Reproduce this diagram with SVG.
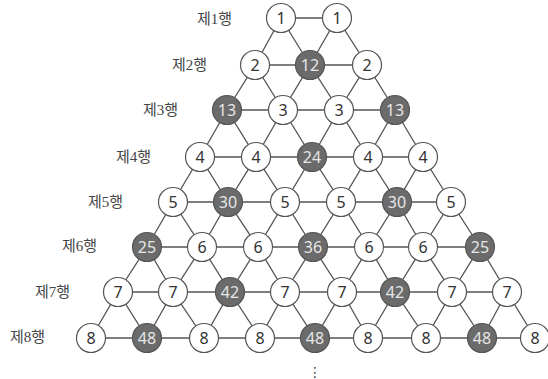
<svg xmlns="http://www.w3.org/2000/svg" width="548" height="379" viewBox="0 0 548 379">
<style>
.e{fill:none;stroke:#555;stroke-width:1.3}
.w circle{fill:#fff;stroke:#555;stroke-width:1.2}
.d circle{fill:#6b6b6b;stroke:#555;stroke-width:1.2}
.n text{font-family:"Noto Sans","Liberation Sans",sans-serif;font-size:16px;text-anchor:middle;dominant-baseline:central}
.w text{fill:#333}
.d text{fill:#e6e6e6}
.lb{font-family:"Liberation Serif","Noto Sans CJK KR",serif;font-size:15px;fill:#444;text-anchor:end;dominant-baseline:central}
</style>
<rect width="548" height="379" fill="#fff"/>
<g id="connectors" class="e">
<path d="M281 18H337M255 65H367M227 110H395M200 157H423M173 202H451M147 247H480M118 292H507M91 338H535"/>
<path d="M255 65L281 18L310 65L337 18L367 65"/>
<path d="M227 110L255 65L283 110L310 65L339 110L367 65L395 110"/>
<path d="M200 157L227 110L256 157L283 110L312 157L339 110L368 157L395 110L423 157"/>
<path d="M173 202L200 157L228 202L256 157L285 202L312 157L341 202L368 157L397 202L423 157L451 202"/>
<path d="M147 247L173 202L202 247L228 202L258 247L285 202L313 247L341 202L369 247L397 202L423 247L451 202L480 247"/>
<path d="M118 292L147 247L173 292L202 247L230 292L258 247L285 292L313 247L342 292L369 247L395 292L423 247L452 292L480 247L507 292"/>
<path d="M91 338L118 292L147 338L173 292L204 338L230 292L260 338L285 292L315 338L342 292L368 338L395 292L426 338L452 292L482 338L507 292L535 338"/>
</g>
<g id="labels">
<text class="lb" x="232" y="19">제1행</text>
<text class="lb" x="207" y="65">제2행</text>
<text class="lb" x="178" y="110">제3행</text>
<text class="lb" x="151" y="157">제4행</text>
<text class="lb" x="123" y="202">제5행</text>
<text class="lb" x="97" y="246">제6행</text>
<text class="lb" x="70" y="292">제7행</text>
<text class="lb" x="45" y="337">제8행</text>
</g>
<g id="r1n1" class="n w"><circle cx="281" cy="18" r="14.5"/><text x="281" y="18">1</text></g>
<g id="r1n2" class="n w"><circle cx="337" cy="18" r="14.5"/><text x="337" y="18">1</text></g>
<g id="r2n1" class="n w"><circle cx="255" cy="65" r="14.5"/><text x="255" y="65">2</text></g>
<g id="r2n2" class="n d"><circle cx="310" cy="65" r="14.5"/><text x="310" y="65">12</text></g>
<g id="r2n3" class="n w"><circle cx="367" cy="65" r="14.5"/><text x="367" y="65">2</text></g>
<g id="r3n1" class="n d"><circle cx="227" cy="110" r="14.5"/><text x="227" y="110">13</text></g>
<g id="r3n2" class="n w"><circle cx="283" cy="110" r="14.5"/><text x="283" y="110">3</text></g>
<g id="r3n3" class="n w"><circle cx="339" cy="110" r="14.5"/><text x="339" y="110">3</text></g>
<g id="r3n4" class="n d"><circle cx="395" cy="110" r="14.5"/><text x="395" y="110">13</text></g>
<g id="r4n1" class="n w"><circle cx="200" cy="157" r="14.5"/><text x="200" y="157">4</text></g>
<g id="r4n2" class="n w"><circle cx="256" cy="157" r="14.5"/><text x="256" y="157">4</text></g>
<g id="r4n3" class="n d"><circle cx="312" cy="157" r="14.5"/><text x="312" y="157">24</text></g>
<g id="r4n4" class="n w"><circle cx="368" cy="157" r="14.5"/><text x="368" y="157">4</text></g>
<g id="r4n5" class="n w"><circle cx="423" cy="157" r="14.5"/><text x="423" y="157">4</text></g>
<g id="r5n1" class="n w"><circle cx="173" cy="202" r="14.5"/><text x="173" y="202">5</text></g>
<g id="r5n2" class="n d"><circle cx="228" cy="202" r="14.5"/><text x="228" y="202">30</text></g>
<g id="r5n3" class="n w"><circle cx="285" cy="202" r="14.5"/><text x="285" y="202">5</text></g>
<g id="r5n4" class="n w"><circle cx="341" cy="202" r="14.5"/><text x="341" y="202">5</text></g>
<g id="r5n5" class="n d"><circle cx="397" cy="202" r="14.5"/><text x="397" y="202">30</text></g>
<g id="r5n6" class="n w"><circle cx="451" cy="202" r="14.5"/><text x="451" y="202">5</text></g>
<g id="r6n1" class="n d"><circle cx="147" cy="247" r="14.5"/><text x="147" y="247">25</text></g>
<g id="r6n2" class="n w"><circle cx="202" cy="247" r="14.5"/><text x="202" y="247">6</text></g>
<g id="r6n3" class="n w"><circle cx="258" cy="247" r="14.5"/><text x="258" y="247">6</text></g>
<g id="r6n4" class="n d"><circle cx="313" cy="247" r="14.5"/><text x="313" y="247">36</text></g>
<g id="r6n5" class="n w"><circle cx="369" cy="247" r="14.5"/><text x="369" y="247">6</text></g>
<g id="r6n6" class="n w"><circle cx="423" cy="247" r="14.5"/><text x="423" y="247">6</text></g>
<g id="r6n7" class="n d"><circle cx="480" cy="247" r="14.5"/><text x="480" y="247">25</text></g>
<g id="r7n1" class="n w"><circle cx="118" cy="292" r="14.5"/><text x="118" y="292">7</text></g>
<g id="r7n2" class="n w"><circle cx="173" cy="292" r="14.5"/><text x="173" y="292">7</text></g>
<g id="r7n3" class="n d"><circle cx="230" cy="292" r="14.5"/><text x="230" y="292">42</text></g>
<g id="r7n4" class="n w"><circle cx="285" cy="292" r="14.5"/><text x="285" y="292">7</text></g>
<g id="r7n5" class="n w"><circle cx="342" cy="292" r="14.5"/><text x="342" y="292">7</text></g>
<g id="r7n6" class="n d"><circle cx="395" cy="292" r="14.5"/><text x="395" y="292">42</text></g>
<g id="r7n7" class="n w"><circle cx="452" cy="292" r="14.5"/><text x="452" y="292">7</text></g>
<g id="r7n8" class="n w"><circle cx="507" cy="292" r="14.5"/><text x="507" y="292">7</text></g>
<g id="r8n1" class="n w"><circle cx="91" cy="338" r="14.5"/><text x="91" y="338">8</text></g>
<g id="r8n2" class="n d"><circle cx="147" cy="338" r="14.5"/><text x="147" y="338">48</text></g>
<g id="r8n3" class="n w"><circle cx="204" cy="338" r="14.5"/><text x="204" y="338">8</text></g>
<g id="r8n4" class="n w"><circle cx="260" cy="338" r="14.5"/><text x="260" y="338">8</text></g>
<g id="r8n5" class="n d"><circle cx="315" cy="338" r="14.5"/><text x="315" y="338">48</text></g>
<g id="r8n6" class="n w"><circle cx="368" cy="338" r="14.5"/><text x="368" y="338">8</text></g>
<g id="r8n7" class="n w"><circle cx="426" cy="338" r="14.5"/><text x="426" y="338">8</text></g>
<g id="r8n8" class="n d"><circle cx="482" cy="338" r="14.5"/><text x="482" y="338">48</text></g>
<g id="r8n9" class="n w"><circle cx="535" cy="338" r="14.5"/><text x="535" y="338">8</text></g>
<text x="315" y="377" font-family="DejaVu Sans,sans-serif" font-size="14" fill="#444" text-anchor="middle">⋮</text>
</svg>
